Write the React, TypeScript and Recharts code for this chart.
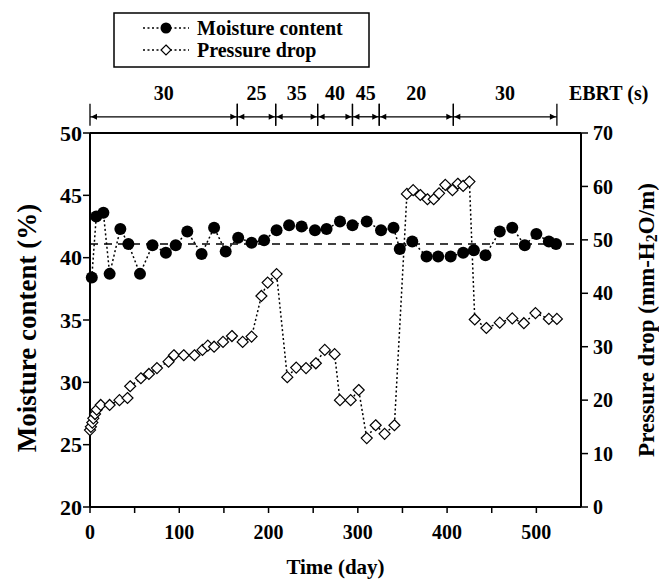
import { ComposedChart, Line, XAxis, YAxis, ReferenceLine } from "recharts";

// Moisture content (%) vs time (day)
const moistureDays = [
  2, 7, 15, 22, 34, 43, 56, 70, 85, 96, 109, 125, 139, 152, 166, 181, 195, 209,
  223, 237, 252, 265, 280, 294, 310, 326, 340, 347, 361, 377, 390, 404, 418, 430,
  443, 459, 473, 487, 500, 514, 522,
];
const moistureValues = [
  38.4, 43.3, 43.6, 38.7, 42.3, 41.1, 38.7, 41.0, 40.4, 41.0, 42.1, 40.3, 42.4,
  40.5, 41.6, 41.2, 41.4, 42.2, 42.6, 42.5, 42.2, 42.3, 42.9, 42.6, 42.9, 42.2,
  42.4, 40.7, 41.3, 40.1, 40.1, 40.1, 40.4, 40.6, 40.2, 42.1, 42.4, 41.0, 41.9,
  41.3, 41.1,
];

// Pressure drop (mm-H2O/m) vs time (day)
const pressureDays = [
  0, 1, 2.6, 3.7, 5.6, 7.5, 12, 22, 33, 42, 45, 57, 66, 75, 88, 94, 105, 117, 126,
  132, 139, 149, 159, 171, 181, 192, 199, 209, 221, 231, 242, 253, 263, 274, 280,
  292, 301, 310, 320, 330, 341, 355, 362, 370, 378, 385, 391, 398, 406, 412, 418,
  425, 431, 444, 459, 473, 486, 499, 514, 523,
];
const pressureValues = [
  14.4, 15.0, 15.8, 16.6, 17.4, 18.2, 19.1, 19.1, 20.0, 20.4, 22.6, 24.1, 24.9,
  26.0, 27.2, 28.4, 28.4, 28.4, 29.4, 30.2, 30.0, 30.9, 32.0, 30.9, 31.9, 39.5,
  42.0, 43.6, 24.3, 26.1, 26.0, 26.9, 29.4, 28.6, 20.0, 20.0, 21.9, 12.9, 15.3,
  13.7, 15.3, 58.6, 59.3, 58.4, 57.6, 57.6, 58.7, 60.3, 59.3, 60.5, 60.1, 60.9,
  35.1, 33.5, 34.5, 35.3, 34.4, 36.3, 35.2, 35.2,
];

// EBRT periods (s) and their day boundaries
const ebrtValues = [30, 25, 35, 40, 45, 20, 30];
const ebrtBounds = [0, 165, 208, 255, 294, 324, 407, 523];

const xTicks = [0, 50, 100, 150, 200, 250, 300, 350, 400, 450, 500];
const leftTicks = [20, 25, 30, 35, 40, 45, 50];
const rightTicks = [0, 10, 20, 30, 40, 50, 60, 70];
const moistureMean = 41.1;

const moistureData = moistureDays.map((day, i) => ({ day, moisture: moistureValues[i] }));
const pressureData = pressureDays.map((day, i) => ({ day, pressure: pressureValues[i] }));

const FONT = "'Liberation Serif', 'Times New Roman', serif";
const EBRT_Y = 51.3; // just above the top frame, in left-axis units

const tickStyle = { fontSize: 20, fontWeight: "bold", fill: "#000", fontFamily: FONT };
const leftTickStyle = { ...tickStyle, fontSize: 22 };

function Diamond(props: any) {
  const { cx, cy, index } = props;
  if (cx == null || cy == null) return null;
  const r = 5.5;
  return (
    <polygon
      key={`d-${index}`}
      points={`${cx},${cy - r} ${cx + r},${cy} ${cx},${cy + r} ${cx - r},${cy}`}
      fill="#fff"
      stroke="#000"
      strokeWidth={1.2}
    />
  );
}

function EbrtArrow(props: any) {
  const { x1, y1, x2, label, last } = props;
  if (x1 == null || x2 == null) return null;
  const a = 6;
  const h = 3;
  return (
    <g>
      <line x1={x1} y1={y1} x2={x2} y2={y1} stroke="#000" strokeWidth={1.3} />
      <polygon points={`${x1 + 1},${y1} ${x1 + 1 + a},${y1 - h} ${x1 + 1 + a},${y1 + h}`} fill="#000" />
      <polygon points={`${x2 - 1},${y1} ${x2 - 1 - a},${y1 - h} ${x2 - 1 - a},${y1 + h}`} fill="#000" />
      <line x1={x1} y1={y1 - 13} x2={x1} y2={y1 + 9} stroke="#000" strokeWidth={1.3} />
      <line x1={x2} y1={y1 - 13} x2={x2} y2={y1 + 9} stroke="#000" strokeWidth={1.3} />
      <text
        x={(x1 + x2) / 2}
        y={y1 - 17}
        textAnchor="middle"
        fontFamily={FONT}
        fontWeight="bold"
        fontSize={20}
      >
        {label}
      </text>
      {last && (
        <text x={x2 + 12} y={y1 - 17} fontFamily={FONT} fontWeight="bold" fontSize={20}>
          EBRT (s)
        </text>
      )}
    </g>
  );
}

function LeftLabel(props: any) {
  const vb = props.viewBox || { x: 0, y: 133, width: 90, height: 374 };
  const cx = vb.x + 27;
  const cy = vb.y + vb.height / 2 + 8;
  return (
    <text
      x={cx}
      y={cy}
      transform={`rotate(-90 ${cx} ${cy})`}
      textAnchor="middle"
      dominantBaseline="central"
      fontFamily={FONT}
      fontWeight="bold"
      fontSize={27}
    >
      Moisture content (%)
    </text>
  );
}

function RightLabel(props: any) {
  const vb = props.viewBox || { x: 581, y: 133, width: 78, height: 374 };
  const cx = vb.x + 65;
  const cy = vb.y + vb.height / 2;
  return (
    <text
      x={cx}
      y={cy}
      transform={`rotate(-90 ${cx} ${cy})`}
      textAnchor="middle"
      dominantBaseline="central"
      fontFamily={FONT}
      fontWeight="bold"
      fontSize={23}
    >
      Pressure drop (mm-H
      <tspan dy={5} fontSize={16}>2</tspan>
      <tspan dy={-5}>O/m)</tspan>
    </text>
  );
}

function LegendBox() {
  const items = [
    { label: "Moisture content", y: 28, kind: "circle" },
    { label: "Pressure drop", y: 50, kind: "diamond" },
  ];
  return (
    <svg
      width={659}
      height={579}
      style={{ position: "absolute", left: 0, top: 0, pointerEvents: "none" }}
    >
      <rect x={114} y={13} width={255} height={54} fill="#fff" stroke="#000" strokeWidth={1.5} />
      {items.map((it) => (
        <g key={it.label}>
          <line
            x1={143}
            y1={it.y}
            x2={189}
            y2={it.y}
            stroke="#000"
            strokeWidth={1.5}
            strokeDasharray="2 2.5"
          />
          {it.kind === "circle" ? (
            <circle cx={166} cy={it.y} r={5.5} fill="#000" />
          ) : (
            <polygon
              points={`166,${it.y - 5} 171,${it.y} 166,${it.y + 5} 161,${it.y}`}
              fill="#fff"
              stroke="#000"
              strokeWidth={1.2}
            />
          )}
          <text
            x={197}
            y={it.y}
            dominantBaseline="central"
            fontFamily={FONT}
            fontWeight="bold"
            fontSize={20}
          >
            {it.label}
          </text>
        </g>
      ))}
    </svg>
  );
}

export default function App() {
  return (
    <div style={{ position: "relative", width: 659, height: 579, background: "#fff" }}>
      <style>{`body { margin: 0; }`}</style>
      <ComposedChart
        width={659}
        height={579}
        margin={{ top: 133, right: 0, bottom: 0, left: 0 }}
      >
        <XAxis
          dataKey="day"
          type="number"
          domain={[0, 550]}
          ticks={xTicks}
          tickFormatter={(v: number) => (v % 100 === 0 ? String(v) : "")}
          height={72}
          tickSize={6}
          tickMargin={12}
          tick={tickStyle}
          axisLine={{ stroke: "#000", strokeWidth: 2 }}
          tickLine={{ stroke: "#000", strokeWidth: 1.5 }}
          label={{
            value: "Time (day)",
            position: "insideBottom",
            offset: 5,
            style: { fontSize: 21, fontWeight: "bold", fill: "#000", fontFamily: FONT },
          }}
        />
        <YAxis
          yAxisId="left"
          domain={[20, 50]}
          ticks={leftTicks}
          width={90}
          tickSize={7}
          tickMargin={1}
          tick={leftTickStyle}
          axisLine={{ stroke: "#000", strokeWidth: 2 }}
          tickLine={{ stroke: "#000", strokeWidth: 1.5 }}
          label={<LeftLabel />}
        />
        <YAxis
          yAxisId="right"
          orientation="right"
          domain={[0, 70]}
          ticks={rightTicks}
          width={78}
          tickSize={7}
          tickMargin={5}
          tick={tickStyle}
          axisLine={{ stroke: "#000", strokeWidth: 2 }}
          tickLine={{ stroke: "#000", strokeWidth: 1.5 }}
          label={<RightLabel />}
        />
        <ReferenceLine yAxisId="left" y={50} stroke="#000" strokeWidth={2} />
        <ReferenceLine
          yAxisId="left"
          y={moistureMean}
          stroke="#000"
          strokeWidth={1.5}
          strokeDasharray="8 6"
        />
        {ebrtValues.map((v, i) => (
          <ReferenceLine
            key={`ebrt-${i}`}
            yAxisId="left"
            ifOverflow="visible"
            segment={[
              { x: ebrtBounds[i], y: EBRT_Y },
              { x: ebrtBounds[i + 1], y: EBRT_Y },
            ]}
            shape={(p: any) => (
              <EbrtArrow {...p} label={v} last={i === ebrtValues.length - 1} />
            )}
          />
        ))}
        <Line
          data={pressureData}
          yAxisId="right"
          dataKey="pressure"
          type="linear"
          stroke="#000"
          strokeWidth={1.5}
          strokeDasharray="2 2.5"
          dot={Diamond}
          activeDot={false}
          isAnimationActive={false}
        />
        <Line
          data={moistureData}
          yAxisId="left"
          dataKey="moisture"
          type="linear"
          stroke="#000"
          strokeWidth={1.5}
          strokeDasharray="2 2.5"
          dot={{ r: 6, fill: "#000", stroke: "#000", strokeWidth: 0 }}
          activeDot={false}
          isAnimationActive={false}
        />
      </ComposedChart>
      <LegendBox />
    </div>
  );
}
